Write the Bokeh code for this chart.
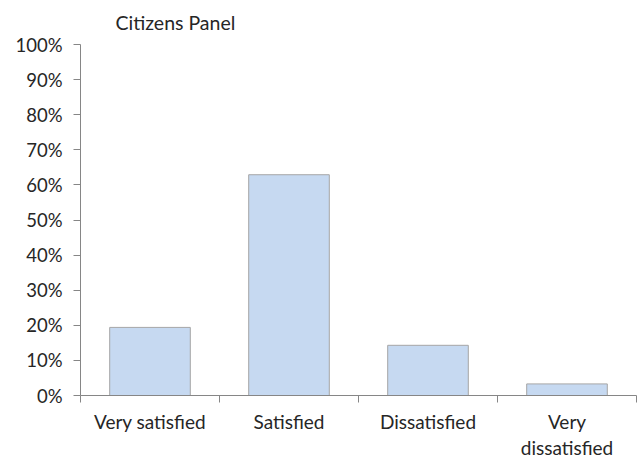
from bokeh.plotting import figure
from bokeh.models import Range1d, FixedTicker, PrintfTickFormatter, ColumnDataSource
from bokeh.embed import file_html
from bokeh.resources import INLINE

title = "Citizens Panel"
categories = ["Very satisfied", "Satisfied", "Dissatisfied", "Very\ndissatisfied"]
percent = [19.4, 62.9, 14.3, 3.3]
y_ticks = [0, 10, 20, 30, 40, 50, 60, 70, 80, 90, 100]

FONT = "Lato"
TEXT = "#262626"
AXIS = "#868686"

positions = [i + 0.5 for i in range(len(categories))]
src = ColumnDataSource(dict(x=positions, top=percent, cat=categories))

p = figure(width=637, height=462, output_backend="svg", toolbar_location=None,
           x_range=Range1d(0, len(categories)), y_range=Range1d(0, 100),
           min_border_left=80, min_border_right=1, min_border_top=44, min_border_bottom=67)

p.vbar(x="x", top="top", width=0.58, source=src, fill_color="#C6D9F1",
       line_color="#A6A6A6", line_width=1)

p.title.text = title
p.title.align = "left"
p.title.vertical_align = "top"
p.title.offset = 35
p.title.standoff = 18
p.title.text_font = FONT
p.title.text_font_size = "19.5px"
p.title.text_font_style = "normal"
p.title.text_color = TEXT

p.grid.visible = False
p.outline_line_color = None

ya = p.yaxis[0]
ya.ticker = FixedTicker(ticks=y_ticks)
ya.formatter = PrintfTickFormatter(format="%d%%")
ya.axis_line_color = AXIS
ya.major_tick_line_color = AXIS
ya.major_tick_out = 7
ya.major_tick_in = 0
ya.minor_tick_line_color = None
ya.major_label_text_font = FONT
ya.major_label_text_font_size = "18.5px"
ya.major_label_text_color = TEXT
ya.major_label_standoff = 11

xa = p.xaxis[0]
xa.ticker = FixedTicker(ticks=positions, minor_ticks=list(range(len(categories) + 1)))
xa.major_label_overrides = {pos: c for pos, c in zip(positions, categories)}
xa.axis_line_color = AXIS
xa.major_tick_line_color = None
xa.major_tick_out = 0
xa.minor_tick_line_color = AXIS
xa.minor_tick_out = 7
xa.minor_tick_in = 0
xa.major_label_text_font = FONT
xa.major_label_text_font_size = "19px"
xa.major_label_text_color = TEXT
xa.major_label_text_line_height = 1.15
xa.major_label_standoff = 7

open("out.html", "w").write(file_html(p, INLINE))
